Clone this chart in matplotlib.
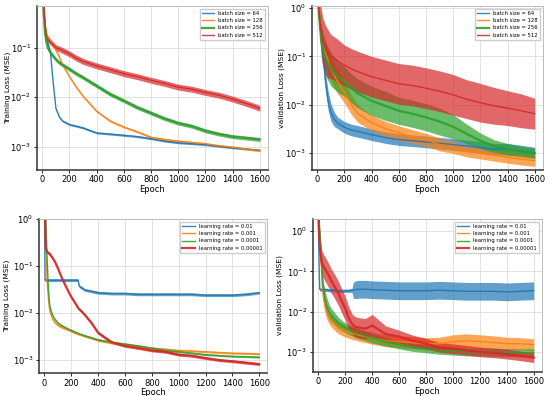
import numpy as np
import matplotlib
matplotlib.use("Agg")
import matplotlib.pyplot as plt
from matplotlib.ticker import NullLocator, LogLocator

# ---- top row: batch size ----
ep_bs = [0, 10, 20, 30, 40, 60, 80, 100, 125, 150, 200, 250, 300, 400, 500,
         600, 700, 800, 900, 1000, 1100, 1200, 1300, 1400, 1500, 1600]
bs_labels = ["batch size = 64", "batch size = 128", "batch size = 256", "batch size = 512"]

train_bs64 = [2, 0.6, 0.3, 0.18, 0.13, 0.08, 0.02, 0.006, 0.004, 0.0033, 0.0028, 0.0026, 0.0024,
              0.0019, 0.0018, 0.0017, 0.0016, 0.00145, 0.0013, 0.0012, 0.00115, 0.0011, 0.00102,
              0.00095, 0.0009, 0.00085]
train_bs128 = [2, 0.6, 0.3, 0.2, 0.17, 0.14, 0.11, 0.09, 0.065, 0.045, 0.026, 0.016, 0.0105,
               0.0052, 0.0033, 0.0025, 0.002, 0.00155, 0.0014, 0.0013, 0.00122, 0.00115, 0.00105,
               0.00098, 0.0009, 0.00083]
train_bs256 = [2, 0.5, 0.2, 0.13, 0.1, 0.08, 0.068, 0.058, 0.05, 0.045, 0.037, 0.03, 0.025,
               0.017, 0.0115, 0.0085, 0.0062, 0.0048, 0.0037, 0.003, 0.0026, 0.0021, 0.0018,
               0.0016, 0.0015, 0.0014]
train_bs512 = [3, 1.0, 0.3, 0.17, 0.15, 0.13, 0.115, 0.1, 0.095, 0.088, 0.075, 0.062, 0.053,
               0.043, 0.036, 0.03, 0.026, 0.022, 0.019, 0.016, 0.0145, 0.0125, 0.011, 0.0092,
               0.0075, 0.006]
# noise half-width of each curve, in decades
train_bs_spread = [0.02, 0.02, 0.04, 0.06]

val_bs64 = [3, 1.0, 0.5, 0.25, 0.13, 0.03, 0.012, 0.007, 0.005, 0.0042, 0.0034, 0.003, 0.0028,
            0.0024, 0.0021, 0.0019, 0.0018, 0.0017, 0.0016, 0.0015, 0.0014, 0.0013, 0.0012,
            0.0012, 0.0011, 0.001]
val_bs128 = [3, 1.0, 0.4, 0.25, 0.2, 0.12, 0.08, 0.055, 0.04, 0.03, 0.018, 0.01, 0.0065,
             0.0042, 0.0032, 0.0026, 0.0022, 0.0019, 0.0015, 0.0013, 0.0011, 0.001, 0.0009,
             0.00082, 0.00075, 0.0007]
val_bs256 = [3, 1.0, 0.4, 0.2, 0.14, 0.09, 0.07, 0.055, 0.045, 0.038, 0.03, 0.022, 0.017,
             0.012, 0.0095, 0.0075, 0.0065, 0.0055, 0.0045, 0.0035, 0.0025, 0.0018, 0.0014,
             0.0012, 0.0011, 0.001]
val_bs512 = [3, 1.0, 0.5, 0.3, 0.2, 0.14, 0.11, 0.1, 0.09, 0.08, 0.065, 0.055, 0.048, 0.038,
             0.032, 0.027, 0.025, 0.022, 0.019, 0.016, 0.013, 0.011, 0.0095, 0.0085, 0.0075,
             0.0065]
val_bs64_spread = [0.05, 0.05, 0.1, 0.1, 0.15, 0.2, 0.2, 0.18, 0.15, 0.12, 0.12, 0.12, 0.12,
                   0.12, 0.12, 0.12, 0.12, 0.12, 0.12, 0.12, 0.12, 0.12, 0.12, 0.12, 0.12, 0.12]
val_bs128_spread = [0.05, 0.1, 0.15, 0.2, 0.2, 0.22, 0.25, 0.25, 0.25, 0.25, 0.22, 0.2, 0.18,
                    0.16, 0.15, 0.15, 0.14, 0.13, 0.13, 0.12, 0.12, 0.12, 0.12, 0.12, 0.12, 0.12]
val_bs256_spread = [0.05, 0.1, 0.2, 0.3, 0.35, 0.35, 0.35, 0.35, 0.33, 0.32, 0.3, 0.3, 0.3,
                    0.3, 0.3, 0.28, 0.28, 0.28, 0.28, 0.25, 0.2, 0.16, 0.13, 0.12, 0.1, 0.1]
val_bs512_spread = [0.05, 0.2, 0.4, 0.5, 0.5, 0.5, 0.5, 0.45, 0.45, 0.45, 0.42, 0.42, 0.42,
                    0.42, 0.42, 0.42, 0.42, 0.42, 0.42, 0.42, 0.4, 0.4, 0.38, 0.36, 0.35, 0.32]

# ---- bottom row: learning rate ----
ep_lr = [0, 5, 10, 20, 30, 40, 60, 80, 100, 125, 150, 175, 200, 225, 250, 260, 275, 300,
         350, 400, 500, 600, 700, 800, 900, 1000, 1100, 1200, 1300, 1400, 1500, 1600]
lr_labels = ["learning rate = 0.01", "learning rate = 0.001",
             "learning rate = 0.0001", "learning rate = 0.00001"]

train_lr1 = [3, 0.05, 0.05, 0.05, 0.05, 0.05, 0.05, 0.05, 0.05, 0.05, 0.05, 0.05, 0.05, 0.05,
             0.05, 0.037, 0.035, 0.031, 0.029, 0.027, 0.026, 0.026, 0.025, 0.025, 0.025, 0.025,
             0.025, 0.024, 0.024, 0.024, 0.025, 0.027]
train_lr2 = [3, 1.0, 0.3, 0.05, 0.02, 0.011, 0.0075, 0.0062, 0.0055, 0.005, 0.0047, 0.0044,
             0.0041, 0.0038, 0.0036, 0.0035, 0.0034, 0.0032, 0.0029, 0.0026, 0.0023, 0.0021,
             0.0019, 0.0018, 0.0017, 0.0016, 0.00155, 0.0015, 0.00145, 0.0014, 0.00138, 0.00135]
train_lr3 = [3, 1.5, 1.0, 0.15, 0.03, 0.014, 0.009, 0.0072, 0.0062, 0.0055, 0.005, 0.0046,
             0.0043, 0.004, 0.0037, 0.0036, 0.0035, 0.0033, 0.003, 0.0027, 0.0024, 0.0022,
             0.002, 0.0018, 0.0016, 0.0015, 0.0014, 0.0013, 0.00125, 0.0012, 0.00118, 0.00115]
train_lr4 = [3, 1.0, 0.24, 0.2, 0.19, 0.18, 0.15, 0.12, 0.09, 0.06, 0.042, 0.03, 0.022, 0.017,
             0.013, 0.012, 0.011, 0.0092, 0.0062, 0.0038, 0.0024, 0.002, 0.0018, 0.0016, 0.0015,
             0.0013, 0.00123, 0.0011, 0.001, 0.00094, 0.00088, 0.00082]
train_lr_spread = [0.03, 0.02, 0.02, 0.03]

val_lr1 = [3, 0.2, 0.036, 0.035, 0.035, 0.035, 0.035, 0.034, 0.034, 0.034, 0.033, 0.033, 0.033,
           0.033, 0.034, 0.034, 0.035, 0.036, 0.036, 0.035, 0.034, 0.033, 0.033, 0.033, 0.034,
           0.033, 0.032, 0.032, 0.032, 0.031, 0.032, 0.033]
val_lr2 = [3, 1.5, 0.6, 0.2, 0.04, 0.02, 0.01, 0.007, 0.0057, 0.0047, 0.004, 0.0036, 0.0033,
           0.0031, 0.0029, 0.0028, 0.0028, 0.0026, 0.0024, 0.0022, 0.0019, 0.0018, 0.0017,
           0.0016, 0.0016, 0.0018, 0.0019, 0.0018, 0.0017, 0.0016, 0.0016, 0.0015]
val_lr3 = [3, 2.0, 1.0, 0.3, 0.06, 0.03, 0.015, 0.01, 0.008, 0.0065, 0.0052, 0.0045, 0.004,
           0.0036, 0.0033, 0.0032, 0.003, 0.0028, 0.0025, 0.0022, 0.0018, 0.0015, 0.0013,
           0.0012, 0.0011, 0.00105, 0.001, 0.001, 0.00098, 0.00096, 0.00095, 0.00095]
val_lr4 = [3, 1.0, 0.4, 0.2, 0.15, 0.13, 0.1, 0.075, 0.055, 0.04, 0.028, 0.018, 0.012, 0.007,
           0.005, 0.0046, 0.0042, 0.004, 0.0038, 0.0045, 0.0028, 0.0024, 0.0019, 0.0016,
           0.0013, 0.0012, 0.0011, 0.001, 0.00095, 0.00088, 0.0008, 0.00072]
val_lr1_spread = [0.04, 0.04, 0.04, 0.04, 0.04, 0.04, 0.04, 0.04, 0.04, 0.04, 0.04, 0.04,
                  0.04, 0.04, 0.05, 0.2, 0.22, 0.22, 0.22, 0.22, 0.22, 0.22, 0.22, 0.22, 0.22,
                  0.22, 0.22, 0.22, 0.22, 0.22, 0.22, 0.22]
val_lr2_spread = [0.05, 0.1, 0.15, 0.2, 0.2, 0.18, 0.16, 0.15, 0.15, 0.15, 0.15, 0.15, 0.15,
                  0.15, 0.15, 0.15, 0.15, 0.15, 0.15, 0.15, 0.15, 0.15, 0.15, 0.15, 0.16, 0.17,
                  0.17, 0.17, 0.17, 0.16, 0.15, 0.15]
val_lr3_spread = [0.05, 0.1, 0.15, 0.2, 0.22, 0.22, 0.2, 0.18, 0.16, 0.15, 0.14, 0.13, 0.12,
                  0.12, 0.12, 0.12, 0.12, 0.12, 0.12, 0.12, 0.11, 0.1, 0.1, 0.1, 0.1, 0.1, 0.1,
                  0.1, 0.1, 0.1, 0.1, 0.1]
val_lr4_spread = [0.05, 0.2, 0.3, 0.3, 0.3, 0.3, 0.3, 0.3, 0.3, 0.3, 0.3, 0.3, 0.3, 0.28,
                  0.25, 0.25, 0.25, 0.25, 0.25, 0.28, 0.2, 0.16, 0.14, 0.13, 0.12, 0.12, 0.12,
                  0.12, 0.12, 0.12, 0.12, 0.12]

colors = ["#1f77b4", "#ff7f0e", "#2ca02c", "#d62728"]


def draw(ax, ep, series, spreads, labels, lws):
    for y, s, lab, c, lw in zip(series, spreads, labels, colors, lws):
        y = np.array(y)
        s = np.array(s)
        ax.fill_between(ep, y / 10 ** s, y * 10 ** s, color=c, alpha=0.7, lw=0)
        ax.plot(ep, y, color=c, lw=lw, label=lab, alpha=0.9)


def style(ax, ylabel, ylim, label_x):
    ax.set_yscale("log")
    ax.set_xlim(-40, 1660)
    ax.set_ylim(*ylim)
    ax.set_xticks(range(0, 1601, 200))
    ax.yaxis.set_major_locator(LogLocator(base=10, numticks=10))
    ax.yaxis.set_minor_locator(NullLocator())
    ax.grid(True, color="#dddddd", lw=0.6)
    ax.set_axisbelow(True)
    ax.tick_params(labelsize=6, length=2.5, width=0.6, pad=1.5)
    ax.set_xlabel("Epoch", fontsize=6, labelpad=0.5)
    ax.set_ylabel(ylabel, fontsize=5.4)
    ax.yaxis.set_label_coords(label_x, 0.5)
    for side in ["left", "bottom"]:
        ax.spines[side].set_color("#333333")
        ax.spines[side].set_linewidth(1.1)
    for side in ["top", "right"]:
        ax.spines[side].set_color("#bbbbbb")
        ax.spines[side].set_linewidth(0.7)
    ax.legend(loc="upper right", fontsize=3.8, framealpha=1, edgecolor="#cccccc",
              handlelength=2.3, borderaxespad=0.5, labelspacing=0.45, fancybox=False)


fig = plt.figure(figsize=(5.5, 3.96), dpi=100)
ax1 = fig.add_axes([0.067, 0.571, 0.42, 0.414])
ax2 = fig.add_axes([0.567, 0.571, 0.42, 0.414])
ax3 = fig.add_axes([0.071, 0.058, 0.415, 0.389])
ax4 = fig.add_axes([0.569, 0.061, 0.416, 0.386])

draw(ax1, ep_bs, [train_bs64, train_bs128, train_bs256, train_bs512], train_bs_spread,
     bs_labels, [1.0, 1.0, 1.6, 1.0])
style(ax1, "Training Loss (MSE)", (3.4e-4, 0.7), -0.11)

draw(ax2, ep_bs, [val_bs64, val_bs128, val_bs256, val_bs512],
     [val_bs64_spread, val_bs128_spread, val_bs256_spread, val_bs512_spread],
     bs_labels, [1.0, 1.0, 1.6, 1.0])
style(ax2, "validation Loss (MSE)", (4.5e-4, 1.1), -0.115)

draw(ax3, ep_lr, [train_lr1, train_lr2, train_lr3, train_lr4], train_lr_spread,
     lr_labels, [1.0, 1.0, 1.0, 1.6])
style(ax3, "Training Loss (MSE)", (5.3e-4, 1.0), -0.125)

draw(ax4, ep_lr, [val_lr1, val_lr2, val_lr3, val_lr4],
     [val_lr1_spread, val_lr2_spread, val_lr3_spread, val_lr4_spread],
     lr_labels, [1.0, 1.0, 1.0, 1.6])
style(ax4, "validation Loss (MSE)", (3.2e-4, 2.0), -0.13)

fig.savefig("out.png", dpi=100)
